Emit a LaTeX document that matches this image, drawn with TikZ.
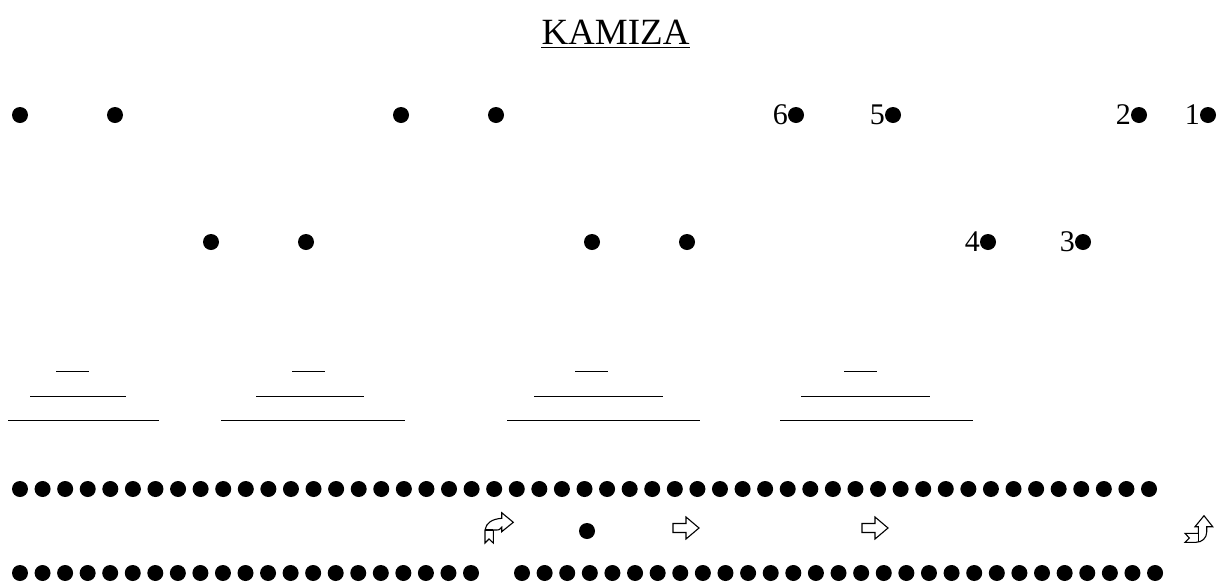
\documentclass[tikz,border=0pt]{standalone}
\usepackage{fontspec}
\setmainfont{Liberation Serif}
\usetikzlibrary{positioning}

\begin{document}
\begin{tikzpicture}[x=1pt, y=-1pt,
  ball/.style={fill=black},
  rule/.style={line width=1pt},
  blockarrow/.style={draw, fill=white, line width=1.1pt, line join=miter},
  numlabel/.style={anchor=base east, inner sep=0pt, font=\fontsize{30}{32}\selectfont}
]
\useasboundingbox[fill=white] (0,0) rectangle (1219,582);

% title
\node[anchor=base, inner sep=0pt, font=\fontsize{37}{40}\selectfont] (title) at (615.5,44) {KAMIZA};
\draw[line width=1.5pt] ([yshift=-3.5pt]title.base west) -- ([yshift=-3.5pt]title.base east);

% upper seats
\foreach \bx in {20,115,401,496,796,893,1139,1208}
  \fill[ball] (\bx,115) circle[radius=8];
\foreach \bx in {211,306,592,687,988,1083}
  \fill[ball] (\bx,242) circle[radius=8];

\node[numlabel] (n6) at (788,124) {6};
\node[numlabel] (n5) at (885,124) {5};
\node[numlabel] (n2) at (1131,124) {2};
\node[numlabel] (n1) at (1200,124) {1};
\node[numlabel] (n4) at (980,251) {4};
\node[numlabel] (n3) at (1075,251) {3};

% steps
\foreach \l/\r/\y in {56/89/371, 30/126/396, 8/159/420,
                      292/325/371, 256/364/396, 221/405/420,
                      575/608/371, 534/663/396, 507/700/420,
                      844/877/371, 801/930/396, 780/973/420}
  \draw[rule] (\l,\y) -- (\r,\y);

% long rows
\foreach \k in {0,...,50}
  \fill[ball] ({20+22.58*\k},489) circle[radius=8];
\foreach \k in {0,...,20}
  \fill[ball] ({20+22.55*\k},573) circle[radius=8];
\foreach \k in {0,...,28}
  \fill[ball] ({522+22.61*\k},573) circle[radius=8];

% passage
\fill[ball] (587,531) circle[radius=8];
\foreach \ax in {686,875}
  \draw[blockarrow, shift={(\ax,528)}] (-13,-4.5) -- (0,-4.5) -- (0,-11) -- (13,0) -- (0,11) -- (0,4.5) -- (-13,4.5) -- cycle;

\begin{scope}[shift={(480,510)}]
  \draw[blockarrow] (5,20) -- (5,33) -- (9,29) -- (13.3,33) -- (13.3,20) -- (17,20)
    .. controls (19,20) .. (21.7,17.3) -- (21.7,21.7) -- (33.3,12.3) -- (21.7,2.7) -- (21.7,8.3)
    .. controls (12,9) and (6,13) .. (5,20) -- cycle;
  \draw[line width=1.1pt] (5,20) -- (13.3,20);
\end{scope}

\begin{scope}[shift={(1180,514)}]
  \draw[blockarrow] (5,19.3) -- (18.3,19.3) -- (18.3,12.7) -- (15,12.7) -- (24,1.7) -- (32.7,12.7)
    -- (26.7,12.7) -- (26.7,18) .. controls (26.7,24) and (22,28.3) .. (16,28.3) -- (5,28.3)
    -- (9.3,24) -- cycle;
  \draw[line width=1.1pt] (18.3,19.3) -- (18.3,27.8);
\end{scope}
\end{tikzpicture}
\end{document}
